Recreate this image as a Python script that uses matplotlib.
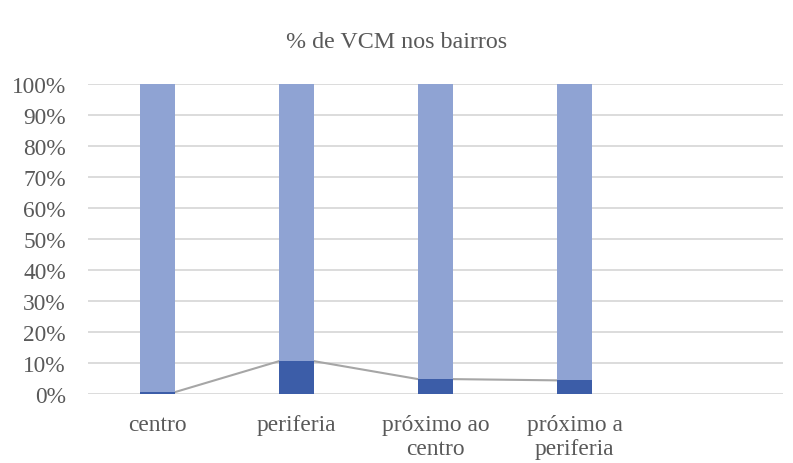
import matplotlib
matplotlib.use("Agg")
import matplotlib.pyplot as plt
import numpy as np

categories = ["centro", "periferia", "próximo ao\ncentro", "próximo a\nperiferia", ""]
vcm = [0.6, 10.6, 4.8, 4.4, np.nan]
rest = [100 - v if not np.isnan(v) else np.nan for v in vcm]
yticks = list(range(0, 101, 10))

plt.rcParams['font.family'] = ['Liberation Serif', 'DejaVu Serif']

fig = plt.figure(figsize=(7.93, 4.64), dpi=100)
ax = fig.add_axes([88/793, 1 - 395/464, 695/793, 310/464])

x = np.arange(len(categories))
w = 0.25
dark = "#3C5DA8"
light = "#8FA3D3"
ax.bar(x, vcm, width=w, color=dark, zorder=3)
ax.bar(x, rest, width=w, bottom=vcm, color=light, zorder=3)

# series lines connecting tops of the dark segment
vals = [v for v in vcm if not np.isnan(v)]
for i in range(len(vals) - 1):
    ax.plot([x[i] + w/2, x[i+1] - w/2], [vals[i], vals[i+1]],
            color="#A6A6A6", lw=1.5, zorder=2)

ax.set_xlim(-0.5, len(categories) - 0.5)
ax.set_ylim(0, 100)
ax.set_yticks(yticks)
ax.set_yticklabels([f"{t}%" for t in yticks])
ax.set_xticks(x)
ax.set_xticklabels(categories, linespacing=1.2)
ax.tick_params(axis='both', length=0, labelsize=16.8, labelcolor="#595959")
ax.tick_params(axis='y', pad=16)
ax.tick_params(axis='x', pad=14.5)
ax.yaxis.grid(True, color="#D9D9D9", lw=1.3, zorder=0)
for s in ax.spines.values():
    s.set_visible(False)

fig.text(0.5, 1 - 42/464, "% de VCM nos bairros", ha="center", va="center",
         fontsize=17.3, color="#595959")

fig.savefig("out.png", dpi=100, facecolor="white")
